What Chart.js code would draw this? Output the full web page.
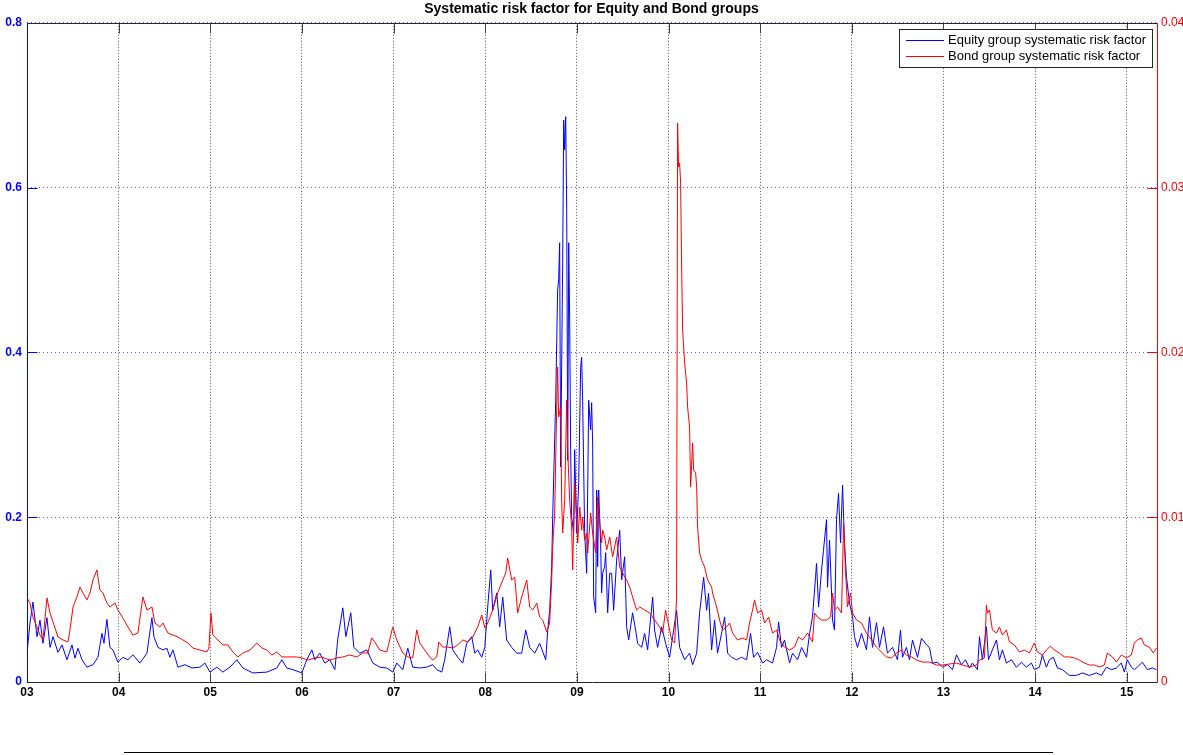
<!DOCTYPE html>
<html>
<head>
<meta charset="utf-8">
<title>Systematic risk factor for Equity and Bond groups</title>
<script src="https://cdn.jsdelivr.net/npm/chart.js@4.4.1/dist/chart.umd.min.js"></script>
<style>
  html, body { margin: 0; padding: 0; background: #fff; }
  #wrap { position: relative; width: 1183px; height: 755px; }
  #rule { position: absolute; left: 124px; top: 752px; width: 929px; height: 1px; background: #000; }
</style>
</head>
<body>
<div id="wrap">
  <canvas id="chart" width="1183" height="755"></canvas>
  <div id="rule"></div>
</div>
<script>
const TITLE = "Systematic risk factor for Equity and Bond groups";
const EQUITY_LABEL = "Equity group systematic risk factor";
const BOND_LABEL = "Bond group systematic risk factor";

// x values are years (3 = 2003 ... 15 = 2015)
const equityYears = [3.000,3.033,3.065,3.109,3.142,3.174,3.218,3.251,3.284,3.338,3.382,3.436,3.491,3.523,3.556,3.600,3.654,3.720,3.774,3.818,3.840,3.872,3.905,3.938,3.992,4.047,4.101,4.156,4.232,4.309,4.363,4.385,4.429,4.483,4.527,4.559,4.592,4.647,4.723,4.799,4.887,4.941,4.996,5.072,5.137,5.214,5.290,5.356,5.465,5.617,5.726,5.781,5.835,5.901,5.999,6.053,6.108,6.141,6.195,6.250,6.304,6.359,6.392,6.446,6.479,6.533,6.566,6.631,6.708,6.773,6.850,6.926,6.991,7.035,7.100,7.155,7.209,7.286,7.362,7.427,7.471,7.526,7.558,7.613,7.646,7.700,7.755,7.798,7.853,7.886,7.918,7.962,7.995,8.027,8.060,8.082,8.125,8.158,8.191,8.234,8.289,8.344,8.398,8.442,8.485,8.540,8.594,8.660,8.682,8.703,8.725,8.736,8.769,8.790,8.801,8.812,8.823,8.845,8.856,8.867,8.878,8.889,8.900,8.911,8.921,8.932,8.943,8.965,8.976,8.998,9.020,9.041,9.052,9.063,9.085,9.107,9.118,9.129,9.150,9.161,9.172,9.183,9.205,9.216,9.227,9.238,9.259,9.270,9.281,9.303,9.314,9.336,9.358,9.379,9.401,9.434,9.467,9.489,9.521,9.543,9.565,9.608,9.641,9.663,9.707,9.739,9.772,9.827,9.848,9.881,9.925,9.968,10.012,10.045,10.088,10.121,10.176,10.230,10.263,10.307,10.339,10.383,10.416,10.437,10.470,10.503,10.535,10.579,10.612,10.645,10.688,10.743,10.797,10.852,10.895,10.928,10.972,11.026,11.070,11.135,11.179,11.201,11.233,11.266,11.321,11.353,11.408,11.452,11.506,11.539,11.571,11.604,11.615,11.637,11.670,11.691,11.724,11.735,11.757,11.790,11.811,11.833,11.855,11.877,11.899,11.920,11.942,11.975,12.008,12.029,12.062,12.106,12.160,12.193,12.226,12.269,12.302,12.346,12.389,12.444,12.498,12.531,12.553,12.596,12.629,12.662,12.717,12.760,12.815,12.847,12.880,12.935,12.989,13.044,13.098,13.142,13.196,13.240,13.284,13.316,13.371,13.393,13.425,13.447,13.469,13.491,13.534,13.578,13.611,13.643,13.687,13.742,13.796,13.851,13.905,13.960,13.992,14.047,14.080,14.123,14.156,14.200,14.243,14.298,14.374,14.450,14.516,14.592,14.669,14.723,14.778,14.832,14.887,14.941,14.974,15.006,15.050,15.083,15.115,15.170,15.225,15.279,15.323];
const equityValues = [0.035,0.072,0.097,0.055,0.075,0.047,0.078,0.042,0.055,0.036,0.045,0.027,0.045,0.029,0.041,0.027,0.018,0.021,0.030,0.059,0.047,0.076,0.042,0.039,0.024,0.030,0.027,0.033,0.023,0.035,0.078,0.055,0.042,0.039,0.041,0.030,0.039,0.018,0.021,0.017,0.018,0.023,0.012,0.018,0.012,0.018,0.027,0.017,0.011,0.012,0.017,0.027,0.017,0.015,0.011,0.027,0.039,0.027,0.035,0.023,0.027,0.015,0.053,0.090,0.055,0.084,0.042,0.035,0.039,0.023,0.018,0.017,0.012,0.023,0.015,0.041,0.018,0.017,0.018,0.021,0.015,0.012,0.027,0.067,0.039,0.030,0.023,0.047,0.055,0.035,0.039,0.030,0.042,0.091,0.136,0.087,0.108,0.067,0.103,0.051,0.042,0.035,0.035,0.063,0.042,0.035,0.047,0.027,0.063,0.087,0.140,0.200,0.342,0.476,0.488,0.533,0.261,0.508,0.682,0.646,0.686,0.573,0.269,0.533,0.443,0.282,0.200,0.181,0.282,0.181,0.242,0.382,0.394,0.342,0.181,0.132,0.233,0.342,0.306,0.339,0.290,0.103,0.084,0.233,0.140,0.233,0.169,0.108,0.132,0.140,0.157,0.084,0.132,0.132,0.087,0.148,0.184,0.124,0.152,0.067,0.051,0.084,0.063,0.047,0.042,0.059,0.039,0.103,0.063,0.042,0.067,0.047,0.030,0.055,0.087,0.042,0.027,0.035,0.021,0.035,0.084,0.127,0.087,0.108,0.039,0.075,0.035,0.059,0.079,0.035,0.030,0.027,0.030,0.027,0.059,0.030,0.036,0.023,0.027,0.023,0.042,0.073,0.042,0.051,0.023,0.035,0.027,0.042,0.030,0.059,0.079,0.127,0.144,0.091,0.136,0.160,0.197,0.115,0.172,0.075,0.063,0.197,0.229,0.169,0.239,0.169,0.127,0.096,0.079,0.055,0.042,0.059,0.039,0.079,0.042,0.072,0.042,0.067,0.035,0.042,0.027,0.063,0.030,0.042,0.027,0.051,0.030,0.053,0.045,0.042,0.023,0.024,0.018,0.021,0.015,0.033,0.021,0.027,0.017,0.023,0.015,0.055,0.027,0.047,0.067,0.027,0.039,0.051,0.027,0.039,0.023,0.027,0.018,0.024,0.018,0.023,0.015,0.018,0.033,0.018,0.027,0.030,0.017,0.015,0.008,0.008,0.011,0.008,0.011,0.008,0.018,0.015,0.017,0.023,0.012,0.027,0.018,0.015,0.018,0.024,0.015,0.017,0.015];

const bondYears = [3.000,3.033,3.065,3.109,3.142,3.174,3.218,3.251,3.284,3.338,3.393,3.447,3.469,3.502,3.545,3.578,3.611,3.654,3.687,3.720,3.763,3.774,3.796,3.829,3.872,3.905,3.960,3.992,4.047,4.101,4.156,4.210,4.265,4.309,4.363,4.396,4.450,4.483,4.538,4.592,4.647,4.701,4.756,4.810,4.887,4.963,4.985,5.007,5.028,5.083,5.137,5.192,5.246,5.301,5.356,5.432,5.508,5.563,5.617,5.672,5.726,5.781,5.846,5.944,5.999,6.064,6.141,6.217,6.304,6.381,6.446,6.522,6.599,6.664,6.719,6.762,6.795,6.850,6.926,6.991,7.035,7.100,7.155,7.209,7.253,7.286,7.340,7.395,7.427,7.471,7.493,7.537,7.591,7.646,7.700,7.755,7.809,7.864,7.918,7.962,7.995,8.027,8.082,8.136,8.191,8.224,8.245,8.289,8.322,8.354,8.398,8.453,8.485,8.518,8.562,8.594,8.627,8.671,8.703,8.725,8.736,8.758,8.780,8.790,8.801,8.823,8.834,8.845,8.867,8.889,8.900,8.921,8.943,8.954,8.976,8.998,9.009,9.031,9.052,9.063,9.085,9.107,9.118,9.150,9.172,9.205,9.227,9.249,9.270,9.281,9.303,9.325,9.358,9.390,9.434,9.467,9.499,9.543,9.576,9.608,9.652,9.685,9.739,9.794,9.848,9.903,9.936,9.968,9.990,10.034,10.067,10.088,10.099,10.110,10.121,10.132,10.143,10.154,10.176,10.197,10.208,10.230,10.241,10.263,10.274,10.296,10.307,10.317,10.339,10.361,10.394,10.426,10.470,10.481,10.525,10.557,10.590,10.634,10.666,10.699,10.754,10.808,10.852,10.884,10.917,10.939,10.972,11.015,11.048,11.092,11.135,11.179,11.212,11.266,11.321,11.375,11.419,11.462,11.517,11.571,11.593,11.626,11.670,11.724,11.768,11.790,11.811,11.844,11.888,11.910,11.931,11.953,11.986,12.008,12.051,12.106,12.160,12.215,12.269,12.324,12.378,12.433,12.488,12.542,12.596,12.651,12.706,12.771,12.847,12.924,12.989,13.065,13.142,13.207,13.284,13.360,13.393,13.447,13.469,13.480,13.502,13.534,13.578,13.611,13.643,13.687,13.720,13.774,13.829,13.883,13.938,13.992,14.025,14.080,14.123,14.167,14.210,14.265,14.320,14.374,14.429,14.483,14.538,14.592,14.647,14.701,14.756,14.788,14.843,14.887,14.941,14.996,15.050,15.083,15.115,15.159,15.192,15.246,15.290,15.323];
const bondValues = [0.00510,0.00479,0.00394,0.00334,0.00285,0.00255,0.00510,0.00419,0.00364,0.00273,0.00255,0.00243,0.00316,0.00455,0.00516,0.00576,0.00540,0.00498,0.00540,0.00619,0.00680,0.00637,0.00558,0.00540,0.00479,0.00455,0.00479,0.00437,0.00388,0.00334,0.00285,0.00297,0.00516,0.00437,0.00455,0.00358,0.00334,0.00358,0.00297,0.00285,0.00273,0.00255,0.00237,0.00206,0.00194,0.00182,0.00206,0.00419,0.00285,0.00255,0.00225,0.00225,0.00182,0.00152,0.00176,0.00194,0.00237,0.00206,0.00194,0.00164,0.00182,0.00152,0.00152,0.00152,0.00146,0.00133,0.00146,0.00152,0.00133,0.00146,0.00152,0.00164,0.00152,0.00176,0.00176,0.00267,0.00243,0.00194,0.00182,0.00334,0.00255,0.00176,0.00152,0.00146,0.00316,0.00237,0.00194,0.00152,0.00133,0.00152,0.00243,0.00212,0.00212,0.00206,0.00225,0.00255,0.00243,0.00273,0.00334,0.00407,0.00328,0.00358,0.00437,0.00540,0.00619,0.00661,0.00752,0.00619,0.00637,0.00419,0.00516,0.00619,0.00455,0.00437,0.00479,0.00394,0.00376,0.00303,0.00358,0.00619,0.00819,0.01025,0.01669,0.01911,0.01608,0.01669,0.01104,0.00904,0.01104,0.01711,0.01408,0.01104,0.00941,0.00680,0.01208,0.01001,0.00843,0.01062,0.00922,0.01001,0.00862,0.00904,0.00783,0.01025,0.00904,0.00783,0.01123,0.00965,0.00843,0.00922,0.00880,0.00801,0.00880,0.00759,0.00880,0.00698,0.00661,0.00619,0.00576,0.00516,0.00437,0.00455,0.00437,0.00419,0.00376,0.00334,0.00297,0.00437,0.00376,0.00255,0.00237,0.00516,0.03392,0.03125,0.03149,0.03028,0.02518,0.02136,0.01936,0.01814,0.01669,0.01547,0.01183,0.01450,0.01286,0.01268,0.01183,0.00941,0.00783,0.00740,0.00698,0.00619,0.00576,0.00540,0.00455,0.00376,0.00316,0.00334,0.00358,0.00297,0.00255,0.00267,0.00255,0.00358,0.00437,0.00498,0.00419,0.00437,0.00358,0.00394,0.00297,0.00316,0.00255,0.00212,0.00194,0.00212,0.00273,0.00255,0.00297,0.00243,0.00419,0.00394,0.00376,0.00376,0.00394,0.00540,0.00437,0.00455,0.00419,0.00965,0.00680,0.00455,0.00540,0.00419,0.00376,0.00358,0.00297,0.00255,0.00212,0.00182,0.00152,0.00146,0.00176,0.00194,0.00164,0.00152,0.00133,0.00121,0.00121,0.00103,0.00103,0.00109,0.00115,0.00103,0.00091,0.00103,0.00133,0.00146,0.00467,0.00419,0.00437,0.00316,0.00297,0.00334,0.00285,0.00316,0.00243,0.00225,0.00182,0.00194,0.00176,0.00237,0.00182,0.00164,0.00194,0.00218,0.00194,0.00176,0.00152,0.00152,0.00146,0.00133,0.00115,0.00103,0.00103,0.00091,0.00103,0.00176,0.00152,0.00121,0.00164,0.00146,0.00164,0.00237,0.00255,0.00267,0.00225,0.00212,0.00176,0.00206];

const xTicks = { min: 3, max: 15.33, step: 1 };
const leftTicks = { min: 0, max: 0.8, step: 0.2 };
const rightTicks = { min: 0, max: 0.04, step: 0.01 };

const FONT = "'Liberation Sans', Arial, Helvetica, sans-serif";
const BLUE = "#0000ff";
const RED = "#ff0000";

const zip = (xs, ys) => xs.map((x, i) => ({ x, y: ys[i] }));

const legendItems = [
  { label: EQUITY_LABEL, color: BLUE },
  { label: BOND_LABEL, color: RED },
];

// MATLAB style box: inward tick marks, coloured y axes, legend inside top right
const matlabFrame = {
  id: "matlabFrame",
  afterDatasetsDraw(chart) {
    const { ctx, chartArea: a, scales } = chart;
    const tickLen = 10;
    const seg = (x1, y1, x2, y2, color) => {
      ctx.strokeStyle = color;
      ctx.beginPath();
      ctx.moveTo(x1, y1);
      ctx.lineTo(x2, y2);
      ctx.stroke();
    };
    ctx.save();
    ctx.lineWidth = 1;
    const top = Math.round(a.top) + 0.5;
    const bottom = Math.round(a.bottom) + 0.5;
    const left = Math.round(a.left) + 0.5;
    const right = Math.round(a.right) + 0.5;
    scales.x.ticks.forEach((t) => {
      const px = Math.round(scales.x.getPixelForValue(t.value)) + 0.5;
      seg(px, bottom, px, bottom - tickLen, "#404040");
      seg(px, top, px, top + tickLen, "#404040");
    });
    scales.y.ticks.forEach((t) => {
      const py = Math.round(scales.y.getPixelForValue(t.value)) + 0.5;
      seg(left, py, left + tickLen, py, BLUE);
    });
    scales.y2.ticks.forEach((t) => {
      const py = Math.round(scales.y2.getPixelForValue(t.value)) + 0.5;
      seg(right, py, right - tickLen, py, RED);
    });
    seg(left, top, right, top, "#262626");
    seg(left, bottom, right, bottom, "#262626");
    seg(left, top, left, bottom, BLUE);
    seg(right, top, right, bottom, RED);

    // legend
    ctx.font = "13px " + FONT;
    const textW = Math.max(...legendItems.map((d) => ctx.measureText(d.label).width));
    const w = Math.round(7 + 38 + 4 + textW + 6);
    const h = 38;
    const x0 = Math.round(a.right - 5 - w);
    const y0 = Math.round(a.top + 6);
    ctx.fillStyle = "#262626";
    ctx.fillRect(x0, y0, w + 1, h + 1);
    ctx.fillStyle = "#fff";
    ctx.fillRect(x0 + 1, y0 + 1, w - 1, h - 1);
    ctx.textBaseline = "middle";
    legendItems.forEach((d, i) => {
      const cy = y0 + 11 + i * 16;
      ctx.fillStyle = d.color;
      ctx.fillRect(x0 + 7, cy, 38, 1);
      ctx.fillStyle = "#000";
      ctx.fillText(d.label, x0 + 49, cy + 0.5);
    });
    ctx.restore();
  },
};

new Chart(document.getElementById("chart"), {
  type: "line",
  data: {
    datasets: [
      {
        label: EQUITY_LABEL,
        data: zip(equityYears, equityValues),
        yAxisID: "y",
        borderColor: BLUE,
        borderWidth: 1,
        pointRadius: 0,
        tension: 0,
        order: 1,
      },
      {
        label: BOND_LABEL,
        data: zip(bondYears, bondValues),
        yAxisID: "y2",
        borderColor: RED,
        borderWidth: 1,
        pointRadius: 0,
        tension: 0,
        order: 0,
      },
    ],
  },
  options: {
    responsive: false,
    animation: false,
    events: [],
    layout: { padding: 0 },
    plugins: {
      legend: { display: false },
      tooltip: { enabled: false },
      title: {
        display: true,
        text: TITLE,
        color: "#000",
        font: { family: FONT, size: 14, weight: "bold" },
        padding: { top: 1, bottom: 5 },
      },
    },
    scales: {
      x: {
        type: "linear",
        min: xTicks.min,
        max: xTicks.max,
        afterFit: (s) => { s.height = 73; },
        ticks: {
          stepSize: xTicks.step,
          includeBounds: false,
          autoSkip: false,
          maxRotation: 0,
          padding: 3,
          color: "#000",
          font: { family: FONT, size: 12, weight: "bold" },
          callback: (v) => String(Math.round(v)).padStart(2, "0"),
        },
        grid: { color: "#555555", lineWidth: 1, drawTicks: false },
        border: { display: false, dash: [1, 2] },
      },
      y: {
        position: "left",
        min: leftTicks.min,
        max: leftTicks.max,
        afterFit: (s) => { s.width = 27; },
        ticks: {
          stepSize: leftTicks.step,
          padding: 5,
          color: BLUE,
          font: { family: FONT, size: 12, weight: "bold" },
          callback: (v) => (v === 0 ? "0" : v.toFixed(1)),
        },
        grid: { color: "#5555ff", lineWidth: 1, drawTicks: false },
        border: { display: false, dash: [1, 3] },
      },
      y2: {
        position: "right",
        min: rightTicks.min,
        max: rightTicks.max,
        afterFit: (s) => { s.width = 26; },
        ticks: {
          stepSize: rightTicks.step,
          padding: 4,
          color: RED,
          font: { family: FONT, size: 12 },
          callback: (v) => (v === 0 ? "0" : v.toFixed(2)),
        },
        grid: { drawOnChartArea: false, drawTicks: false },
        border: { display: false },
      },
    },
  },
  plugins: [matlabFrame],
});
</script>
</body>
</html>
